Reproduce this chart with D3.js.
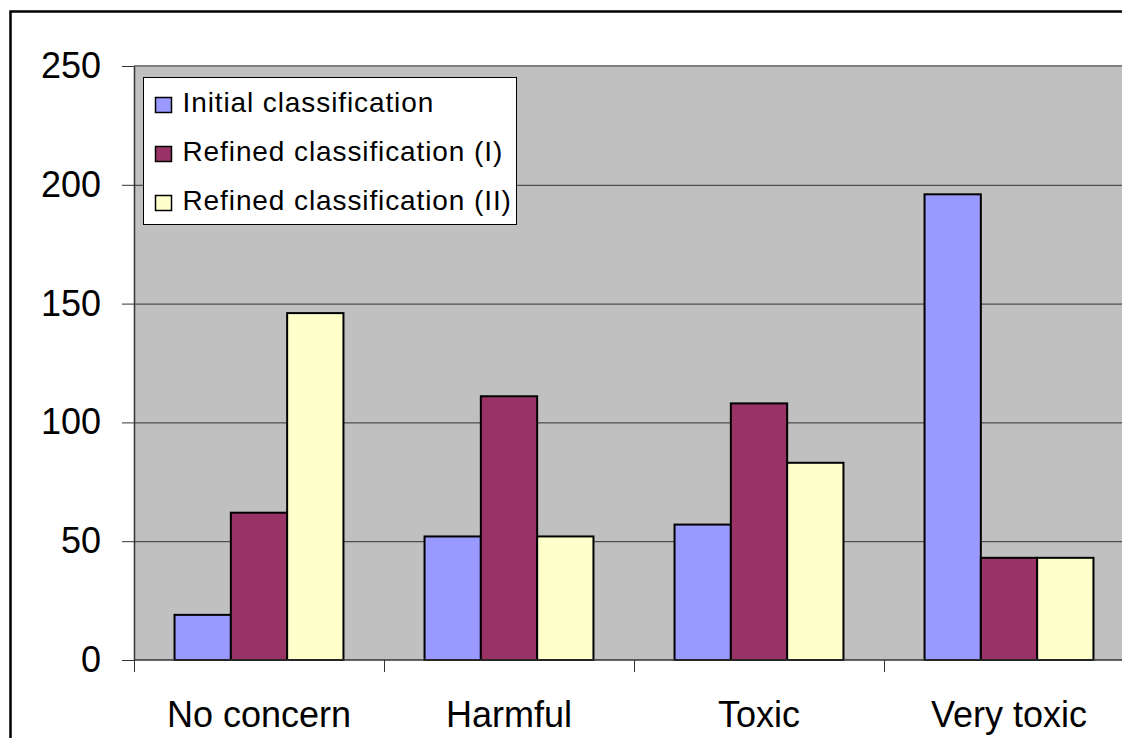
<!DOCTYPE html>
<html>
<head>
<meta charset="utf-8">
<script src="https://cdn.jsdelivr.net/npm/d3@7"></script>
<style>
  html, body { margin: 0; padding: 0; background: #fff; overflow: hidden; }
  svg { display: block; overflow: hidden; font-family: "Liberation Sans", Arial, sans-serif; }
</style>
</head>
<body>
<svg id="chart" width="1122" height="738"></svg>
<script>
// Chart data
const categories = ["No concern", "Harmful", "Toxic", "Very toxic"];
const seriesNames = ["Initial classification", "Refined classification (I)", "Refined classification (II)"];
const initialValues = [19, 52, 57, 196];
const refinedIValues = [62, 111, 108, 43];
const refinedIIValues = [146, 52, 83, 43];
const yTicks = [0, 50, 100, 150, 200, 250];
const seriesColors = ["#9999FF", "#993366", "#FFFFCC"];

const seriesValues = [initialValues, refinedIValues, refinedIIValues];
const rows = categories.map((c, i) => ({
  category: c,
  values: seriesNames.map((s, j) => ({ series: s, index: j, value: seriesValues[j][i] }))
}));

const svg = d3.select("#chart");

const plot = { left: 134, top: 66, bottom: 660, right: 1134 };

const x0 = d3.scaleBand().domain(categories).range([plot.left, plot.right]).paddingInner(0).paddingOuter(0);
const x1 = d3.scaleBand().domain(d3.range(seriesNames.length)).range([0, x0.bandwidth()]).paddingInner(0).paddingOuter(0.72);
const y = d3.scaleLinear().domain([0, 250]).range([plot.bottom, plot.top]);
const color = d3.scaleOrdinal().domain(d3.range(seriesNames.length)).range(seriesColors);

// Outer chart frame (left and top edges fall inside the view)
svg.append("path")
  .attr("d", "M10.5,738 V11.5 H1122")
  .attr("fill", "none").attr("stroke", "#000").attr("stroke-width", 2.5);

// Plot area background
svg.append("rect")
  .attr("x", plot.left).attr("y", plot.top)
  .attr("width", plot.right - plot.left).attr("height", plot.bottom - plot.top)
  .attr("fill", "#C0C0C0");
svg.append("line")
  .attr("x1", plot.left).attr("x2", plot.right)
  .attr("y1", plot.top).attr("y2", plot.top)
  .attr("stroke", "#808080").attr("stroke-width", 2);

// Horizontal gridlines
svg.append("g").selectAll("line")
  .data(yTicks.filter(d => d > 0 && d < 250))
  .join("line")
  .attr("x1", plot.left).attr("x2", plot.right)
  .attr("y1", d => y(d) + 0.5).attr("y2", d => y(d) + 0.5)
  .attr("stroke", "#333").attr("stroke-width", 1);

// Y axis
const yAxis = svg.append("g")
  .attr("transform", `translate(${plot.left},0)`)
  .call(d3.axisLeft(y).tickValues(yTicks).tickSizeInner(12).tickSizeOuter(0).tickPadding(21));
yAxis.select(".domain").attr("stroke", "#333").attr("stroke-width", 1.5);
yAxis.selectAll(".tick line").attr("stroke", "#333");
yAxis.selectAll(".tick text").attr("font-size", 36).attr("fill", "#000")
  .attr("font-family", "Liberation Sans, Arial, sans-serif");

// Bars
const groups = svg.append("g").selectAll("g")
  .data(rows)
  .join("g")
  .attr("transform", d => `translate(${x0(d.category)},0)`);
groups.selectAll("rect")
  .data(d => d.values)
  .join("rect")
  .attr("x", d => x1(d.index))
  .attr("y", d => y(d.value))
  .attr("width", x1.bandwidth())
  .attr("height", d => y(0) - y(d.value))
  .attr("fill", d => color(d.index))
  .attr("stroke", "#000")
  .attr("stroke-width", 2);

// X axis line and category boundary ticks
svg.append("line")
  .attr("x1", plot.left).attr("x2", plot.right)
  .attr("y1", plot.bottom).attr("y2", plot.bottom)
  .attr("stroke", "#333").attr("stroke-width", 1.5);
svg.append("g").selectAll("line")
  .data(categories)
  .join("line")
  .attr("x1", d => x0(d) + 0.5).attr("x2", d => x0(d) + 0.5)
  .attr("y1", plot.bottom).attr("y2", plot.bottom + 12)
  .attr("stroke", "#333").attr("stroke-width", 1);

const xAxis = svg.append("g")
  .attr("transform", `translate(0,${plot.bottom})`)
  .call(d3.axisBottom(x0).tickSize(0).tickPadding(41));
xAxis.select(".domain").remove();
xAxis.selectAll(".tick text").attr("font-size", 36).attr("fill", "#000")
  .attr("font-family", "Liberation Sans, Arial, sans-serif");

// Legend
const legend = svg.append("g").attr("transform", "translate(143.5,77.5)");
legend.append("rect")
  .attr("width", 373).attr("height", 147)
  .attr("fill", "#fff").attr("stroke", "#000").attr("stroke-width", 1);
const items = legend.selectAll("g.item")
  .data(seriesNames)
  .join("g").attr("class", "item")
  .attr("transform", (d, i) => `translate(0,${i * 49})`);
items.append("rect")
  .attr("x", 12).attr("y", 20)
  .attr("width", 16).attr("height", 15)
  .attr("fill", (d, i) => color(i))
  .attr("stroke", "#000").attr("stroke-width", 1.5);
items.append("text")
  .attr("x", 39).attr("y", 34)
  .attr("font-size", 28).attr("letter-spacing", 0.9).attr("fill", "#000")
  .text(d => d);
</script>
</body>
</html>
